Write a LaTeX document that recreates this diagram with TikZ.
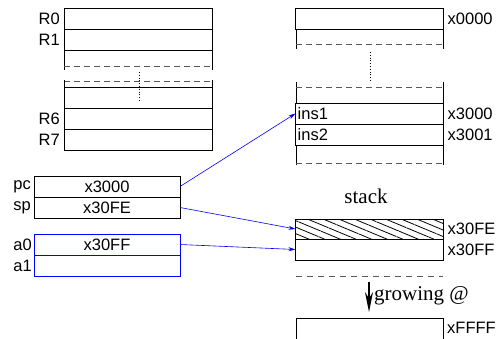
\documentclass[tikz,border=0pt]{standalone}
\usepackage{fontspec}
\setmainfont{Liberation Sans}
\newfontfamily\seriffont{Liberation Serif}
\usetikzlibrary{positioning,patterns.meta,arrows.meta}

\tikzset{
	cell/.style={draw, line width=0.8pt, minimum width=148pt, minimum height=21pt, inner sep=0pt, outer sep=0pt},
	reg/.style={cell, minimum width=146pt},
	lbl/.style={inner sep=2pt, font=\fontsize{16.5}{18}\selectfont},
	gap/.style={gray!70!black, dashed, dash pattern=on 6pt off 4pt, line width=0.8pt},
	ptr/.style={blue, line width=0.6pt, -{Stealth[length=7pt,width=4pt]}}
}

\begin{document}
\begin{tikzpicture}[x=1pt,y=-1pt,font=\fontsize{16.5}{18}\selectfont]
		\useasboundingbox (0,0) rectangle (504,338);
		% registers R0..R7
		\node[cell] (r0) at (138,18.5) {};
		\node[cell] (r1) at (138,39.5) {};
		\draw[line width=0.8pt] (64,50) -- (64,70) (212,50) -- (212,70);
		\draw[gap] (64,66) -- (212,66);
		\draw[gap] (64,81) -- (212,81);
		\draw[line width=0.8pt] (64,80) -- (64,87) (212,80) -- (212,87);
		\node[cell] (r5) at (138,97.5) {};
		\node[cell] (r6) at (138,118.5) {};
		\node[cell] (r7) at (138,139.5) {};
		\draw[dotted, line width=0.8pt] (139,72) -- (139,102);
		\node[lbl, left=2pt of r0.west] {R0};
		\node[lbl, left=2pt of r1.west] {R1};
		\node[lbl, left=2pt of r6.west] {R6};
		\node[lbl, left=2pt of r7.west] {R7};

		% memory
		\node[cell] (m0) at (369.5,18.5) {};
		\draw[line width=0.8pt] (296,29) -- (296,49) (443,29) -- (443,49);
		\draw[gap] (296,44) -- (443,44);
		\draw[dotted, line width=0.8pt] (370,52) -- (370,82);
		\draw[line width=0.8pt] (296,82) -- (296,103) (443,82) -- (443,103);
		\draw[gap] (296,87) -- (443,87);
		\node[cell] (ins1) at (369.5,113.5) {};
		\node[cell] (ins2) at (369.5,134.5) {};
		\draw[line width=0.8pt] (296,145) -- (296,165) (443,145) -- (443,165);
		\draw[gap] (296,163) -- (443,163);
		\node[lbl, anchor=west] at (ins1.west) {ins1};
		\node[lbl, anchor=west] at (ins2.west) {ins2};
		\node[lbl, right=2pt of m0.east] {x0000};
		\node[lbl, right=2pt of ins1.east] {x3000};
		\node[lbl, right=2pt of ins2.east] {x3001};

		% stack
		\node[font=\seriffont\fontsize{21}{24}\selectfont] (stk) at (366,196) {stack};
		\node[cell, minimum height=20pt, pattern={Lines[angle=-22.6,distance=6pt,line width=0.8pt]}] (s0) at (369.5,229) {};
		\node[cell] (s1) at (369.5,249.5) {};
		\node[lbl, right=2pt of s0.east] {x30FE};
		\node[lbl, right=2pt of s1.east] {x30FF};
		\draw[gray!70!black, dashed, dash pattern=on 6pt off 5pt, line width=0.8pt] (296,276) -- (443,276);
		\coordinate (g0) at (369,282);
		\coordinate (g1) at (369,312);
		\draw[line width=1.2pt, -{Stealth[length=20pt,width=8pt]}] (g0) -- (g1);
		\node[font=\seriffont\fontsize{21}{24}\selectfont, anchor=west, inner sep=0pt] at (374,296) {growing @};
		\draw[line width=0.8pt] (296,340) -- (296,318) -- (443,318) -- (443,340);
		\node[lbl, anchor=west] at (445,328) {xFFFF};

		% pc, sp, a0, a1
		\node[reg] (pc) at (107,186.5) {x3000};
		\node[reg] (sp) at (107,207.5) {x30FE};
		\node[lbl, left=1pt of pc.west] {pc};
		\node[lbl, left=1pt of sp.west] {sp};
		\node[reg, blue] (a0) at (107,244.5) {\color{black}x30FF};
		\node[reg, blue] (a1) at (107,265.5) {};
		\node[lbl, left=0pt of a0.west] {a0};
		\node[lbl, left=0pt of a1.west] {a1};

		\draw[ptr] (pc.east) -- (ins1.west);
		\draw[ptr] (sp.east) -- (s0.west);
		\draw[ptr] (a0.east) -- (s1.west);
	\end{tikzpicture}
\end{document}
